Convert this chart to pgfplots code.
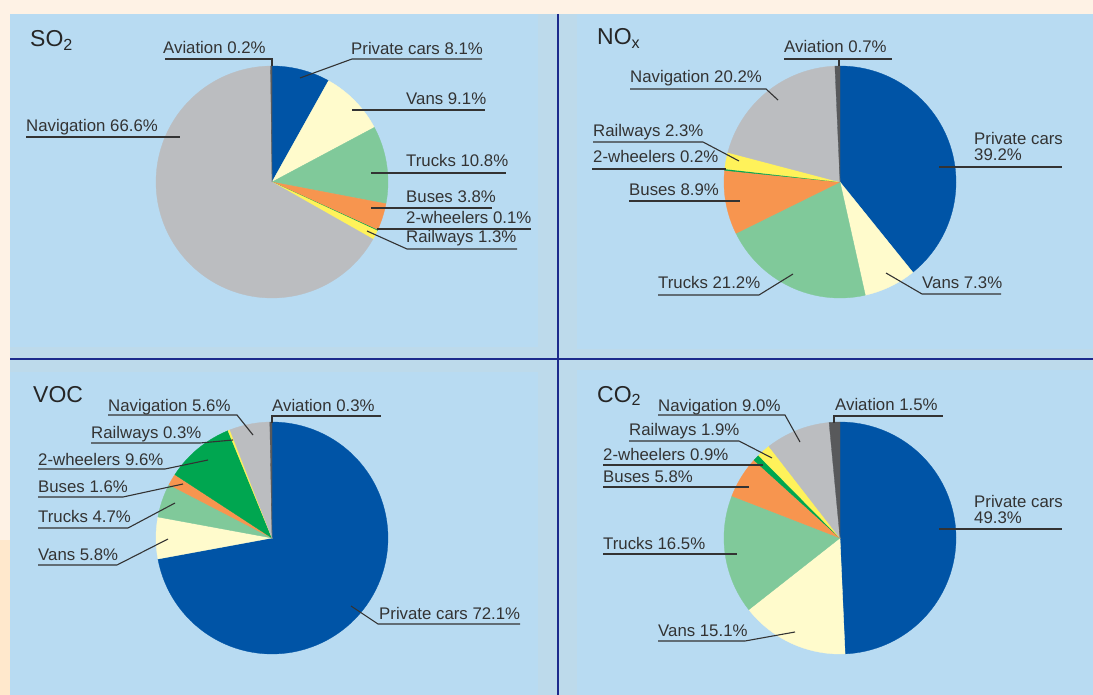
\documentclass[border=0pt]{standalone}
\usepackage{pgfplots}
\pgfplotsset{compat=1.18}
\usepackage{fontspec}
\setmainfont{Liberation Sans}
\definecolor{pc}{HTML}{0054A6}
\definecolor{van}{HTML}{FFFBCC}
\definecolor{truck}{HTML}{80C99A}
\definecolor{bus}{HTML}{F7954F}
\definecolor{twowh}{HTML}{00A650}
\definecolor{rail}{HTML}{FFF25A}
\definecolor{nav}{HTML}{BBBDC0}
\definecolor{avi}{HTML}{58595B}
\definecolor{peach}{HTML}{FEF2E5}
\definecolor{peachb}{HTML}{FFE8CC}
\definecolor{strip}{HTML}{BDDAEB}
\definecolor{panel}{HTML}{B8DBF2}
\definecolor{navy}{HTML}{1C2A8C}
\definecolor{labc}{HTML}{333333}
\pgfplotsset{pieax/.style={hide axis, scale only axis, width=232pt, height=232pt,
  xmin=-1, xmax=1, ymin=-1, ymax=1, anchor=center, clip=false}}
\newcommand\pie[1]{%
  \gdef\cum{0}%
  \foreach \v/\c in {#1}{%
    \pgfmathsetmacro\aS{90-3.6*\cum}%
    \pgfmathsetmacro\aE{90-3.6*(\cum+\v)}%
    \edef\temp{\noexpand\addplot[fill=\c, draw=\c, line width=0.3pt, domain=\aE:\aS, samples=90]
      ({cos(\noexpand\x)},{sin(\noexpand\x)}) -- (axis cs:0,0) -- cycle;}%
    \temp
    \pgfmathsetmacro\nc{\cum+\v}\xdef\cum{\nc}%
  }}
\tikzset{lab/.style={anchor=base west, inner sep=0pt, text=labc, font=\fontsize{16.8}{18}\selectfont},
  ttl/.style={anchor=base west, inner sep=0pt, text=black!85, font=\fontsize{23}{26}\selectfont},
  ld/.style={draw=labc, line width=1.1pt}}
\begin{document}
\begin{tikzpicture}[x=1pt,y=-1pt]
\path[use as bounding box] (0,0) rectangle (1093,695);
\fill[peach] (0,0) rectangle (1093,695);
\fill[peachb] (0,540) rectangle (10,695);
\fill[strip] (10,14) rectangle (1093,695);
\fill[panel] (10,14) rectangle (538,347);
\fill[panel] (577,14) rectangle (1093,349);
\fill[panel] (10,372) rectangle (538,695);
\fill[panel] (577,370) rectangle (1093,695);
\draw[navy, line width=2.2pt] (558,14) -- (558,695);
\draw[navy, line width=2.2pt] (10,359) -- (1093,359);

% SO2
\begin{axis}[pieax, at={(272pt,-182pt)}]
\pie{8.1/pc,9.1/van,10.8/truck,3.8/bus,0.1/twowh,1.3/rail,66.6/nav,0.2/avi}
\end{axis}
% NOx
\begin{axis}[pieax, at={(840pt,-182pt)}]
\pie{39.2/pc,7.3/van,21.2/truck,8.9/bus,0.2/twowh,2.3/rail,20.2/nav,0.7/avi}
\end{axis}
% VOC
\begin{axis}[pieax, at={(272pt,-538pt)}]
\pie{72.1/pc,5.8/van,4.7/truck,1.6/bus,9.6/twowh,0.3/rail,5.6/nav,0.3/avi}
\end{axis}
% CO2
\begin{axis}[pieax, at={(840pt,-538pt)}]
\pie{49.3/pc,15.1/van,16.5/truck,5.8/bus,0.9/twowh,1.9/rail,9.0/nav,1.5/avi}
\end{axis}

% titles
\node[ttl] at (30,47) {SO\textsubscript{2}};
\node[ttl] at (597,45) {NO\textsubscript{x}};
\node[ttl] at (33,402) {VOC};
\node[ttl] at (597,402) {CO\textsubscript{2}};

% SO2 labels
\node[lab] at (163,54) {Aviation 0.2\%};
\draw[ld] (165,59) -- (272,59) -- (272,66);
\node[lab] at (351,55) {Private cars 8.1\%};
\draw[ld] (300,78) -- (352,59) -- (482,59);
\node[lab] at (406,105) {Vans 9.1\%};
\draw[ld] (352,110) -- (485,110);
\node[lab] at (406,167) {Trucks 10.8\%};
\draw[ld] (371,173) -- (506,173);
\node[lab] at (406,203) {Buses 3.8\%};
\draw[ld] (371,208) -- (492,208);
\node[lab] at (406,224) {2-wheelers 0.1\%};
\draw[ld] (377,229) -- (531,229);
\node[lab] at (406,243) {Railways 1.3\%};
\draw[ld] (367,231) -- (407,249) -- (517,249);
\node[lab] at (26,132) {Navigation 66.6\%};
\draw[ld] (26,137) -- (180,137);

% NOx labels
\node[lab] at (784,53) {Aviation 0.7\%};
\draw[ld] (784,59) -- (892,59);
\draw[ld] (839,59) -- (839,66);
\node[lab] at (630,83) {Navigation 20.2\%};
\draw[ld] (630,89) -- (766,89) -- (778,100);
\node[lab] at (593,137) {Railways 2.3\%};
\draw[ld] (593,142) -- (703,142) -- (739,161);
\node[lab] at (593,163) {2-wheelers 0.2\%};
\draw[ld] (592,169) -- (726,169);
\node[lab] at (629,196) {Buses 8.9\%};
\draw[ld] (629,201) -- (740,201);
\node[lab] at (658,289) {Trucks 21.2\%};
\draw[ld] (658,295) -- (759,295) -- (793,274);
\node[lab] at (974,145) {Private cars};
\node[lab] at (974,161) {39.2\%};
\draw[ld] (939,167) -- (1062,167);
\node[lab] at (922,288) {Vans 7.3\%};
\draw[ld] (886,273) -- (922,294) -- (1001,294);

% VOC labels
\node[lab] at (108,411) {Navigation 5.6\%};
\draw[ld] (108,415) -- (237,415) -- (253,435);
\node[lab] at (272,411) {Aviation 0.3\%};
\draw[ld] (272,423) -- (272,416) -- (381,416);
\node[lab] at (91,438) {Railways 0.3\%};
\draw[ld] (91,443) -- (200,443) -- (233,440);
\node[lab] at (38,465) {2-wheelers 9.6\%};
\draw[ld] (38,469) -- (165,469) -- (208,460);
\node[lab] at (38,492) {Buses 1.6\%};
\draw[ld] (38,497) -- (123,497) -- (183,484);
\node[lab] at (38,522) {Trucks 4.7\%};
\draw[ld] (38,528) -- (128,528) -- (175,503);
\node[lab] at (38,560) {Vans 5.8\%};
\draw[ld] (38,565) -- (117,565) -- (168,539);
\node[lab] at (379,619) {Private cars 72.1\%};
\draw[ld] (351,606) -- (378,624) -- (520,624);

% CO2 labels
\node[lab] at (658,411) {Navigation 9.0\%};
\draw[ld] (658,415) -- (785,415) -- (800,442);
\node[lab] at (835,410) {Aviation 1.5\%};
\draw[ld] (834,423) -- (834,416) -- (943,416);
\node[lab] at (629,435) {Railways 1.9\%};
\draw[ld] (629,441) -- (739,441) -- (772,458);
\node[lab] at (603,460) {2-wheelers 0.9\%};
\draw[ld] (603,465) -- (763,465);
\node[lab] at (603,482) {Buses 5.8\%};
\draw[ld] (603,487) -- (749,487);
\node[lab] at (603,549) {Trucks 16.5\%};
\draw[ld] (603,554) -- (737,554);
\node[lab] at (974,507) {Private cars};
\node[lab] at (974,523) {49.3\%};
\draw[ld] (939,529) -- (1062,529);
\node[lab] at (658,636) {Vans 15.1\%};
\draw[ld] (658,641) -- (745,641) -- (795,632);
\end{tikzpicture}
\end{document}
